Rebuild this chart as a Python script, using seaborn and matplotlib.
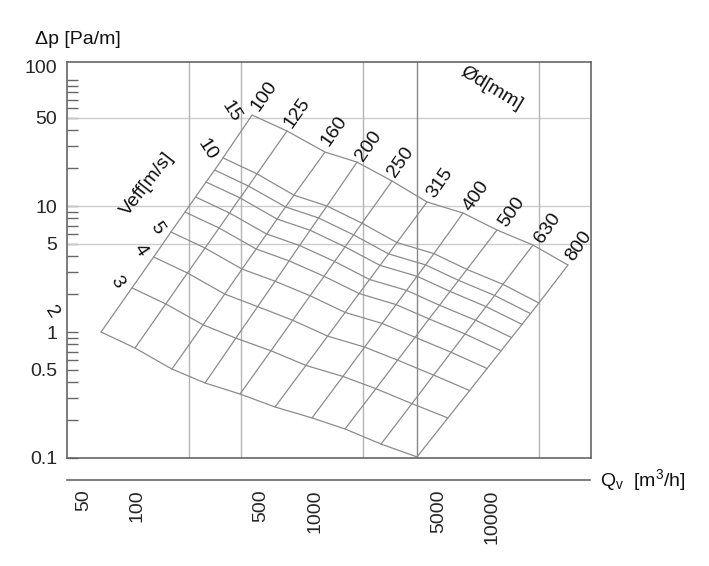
import matplotlib
matplotlib.use("Agg")
import matplotlib.pyplot as plt
from matplotlib.ticker import FixedLocator, NullLocator, NullFormatter
import seaborn as sns
import pandas as pd

# ---------------- data ----------------
velocities = [2, 3, 4, 5, 6, 7, 8, 9, 10, 15]          # m/s
diameters = [100, 125, 160, 200, 250, 315, 400, 500, 630, 800]  # mm

# flow Qv [m3/h] at each diameter, per velocity line
Q_v2 = [62.8, 97.4, 157, 241, 379, 596, 962, 1474, 2349, 3741]
Q_v3 = [93.6, 145, 235, 359, 565, 889, 1434, 2198, 3502, 5578]
Q_v4 = [124, 192, 311, 476, 749, 1177, 1900, 2911, 4639, 7388]
Q_v5 = [155, 241, 389, 597, 938, 1476, 2382, 3650, 5816, 9263]
Q_v6 = [186, 289, 467, 715, 1124, 1768, 2854, 4373, 6969, 11099]
Q_v7 = [213, 331, 535, 819, 1288, 2025, 3269, 5009, 7982, 12712]
Q_v8 = [244, 379, 612, 938, 1475, 2319, 3743, 5735, 9140, 14556]
Q_v9 = [273, 423, 683, 1047, 1647, 2590, 4180, 6405, 10206, 16255]
Q_v10 = [304, 472, 761, 1167, 1835, 2885, 4657, 7136, 11372, 18110]
Q_v15 = [443, 696, 1138, 1722, 2708, 4258, 6784, 10532, 16775, 26377]

# pressure drop dp [Pa/m] at each diameter, per velocity line
dp_v2 = [1.00, 0.746, 0.508, 0.394, 0.322, 0.254, 0.208, 0.170, 0.129, 0.102]
dp_v3 = [2.24, 1.67, 1.14, 0.894, 0.710, 0.543, 0.444, 0.355, 0.270, 0.208]
dp_v4 = [3.94, 2.94, 2.00, 1.59, 1.24, 0.928, 0.759, 0.598, 0.455, 0.343]
dp_v5 = [6.22, 4.64, 3.16, 2.53, 1.94, 1.43, 1.17, 0.908, 0.691, 0.513]
dp_v6 = [8.96, 6.69, 4.56, 3.67, 2.77, 2.02, 1.65, 1.27, 0.965, 0.709]
dp_v7 = [11.8, 8.80, 5.99, 4.86, 3.63, 2.61, 2.14, 1.63, 1.24, 0.903]
dp_v8 = [15.5, 11.6, 7.88, 6.42, 4.74, 3.38, 2.77, 2.10, 1.59, 1.15]
dp_v9 = [19.3, 14.4, 9.83, 8.04, 5.90, 4.17, 3.41, 2.57, 1.95, 1.40]
dp_v10 = [24.1, 18.0, 12.2, 10.0, 7.31, 5.13, 4.19, 3.14, 2.39, 1.70]
dp_v15 = [52.7, 39.4, 26.8, 22.3, 15.8, 10.76, 8.80, 6.45, 4.90, 3.40]

Q_lines = [Q_v2, Q_v3, Q_v4, Q_v5, Q_v6, Q_v7, Q_v8, Q_v9, Q_v10, Q_v15]
dp_lines = [dp_v2, dp_v3, dp_v4, dp_v5, dp_v6, dp_v7, dp_v8, dp_v9, dp_v10, dp_v15]

# reference grid lines
h_grid = [50, 10, 5]
v_grid = [195, 385, 1870, 3730, 18100]

y_major = [0.1, 0.5, 1, 5, 10, 50]
y_minor = [0.2, 0.3, 0.4, 0.6, 0.7, 0.8, 0.9, 2, 3, 4, 6, 7, 8, 9,
           20, 30, 40, 60, 70, 80, 90, 100]
x_major = [50, 100, 500, 1000, 5000, 10000]
x_minor = [40, 60, 70, 80, 90, 200, 300, 400, 600, 700, 800, 900,
           2000, 3000, 4000, 7000, 8000, 9000, 20000, 30000]

# ---------------- style ----------------
sns.set_style("white")
plt.rcParams['font.family'] = ['Liberation Sans', 'DejaVu Sans']
plt.rcParams['mathtext.fontset'] = 'custom'
plt.rcParams['mathtext.rm'] = 'Liberation Sans'
plt.rcParams['mathtext.it'] = 'Liberation Sans'

W, H = 709, 566
fig = plt.figure(figsize=(W / 100, H / 100), dpi=100)
fig.patch.set_facecolor('white')

ax = fig.add_axes([67 / W, (H - 458) / H, 524 / W, 396 / H])
ax.set_xscale('log')
ax.set_yscale('log')
XL = (40.4, 35530)
YL = (0.1, 139)
ax.set_xlim(*XL)
ax.set_ylim(*YL)

# grid lines
for yv in h_grid:
    ax.axhline(yv, color='#cccccc', lw=1.0, zorder=1)
for xv in v_grid:
    ax.axvline(xv, color='#888888' if xv == 3730 else '#b4b4b4', lw=1.0, zorder=1)

# build long tables
rows_v, rows_d = [], []
for j, v in enumerate(velocities):
    for i, d in enumerate(diameters):
        rows_v.append({'Q': Q_lines[j][i], 'dp': dp_lines[j][i], 'line': f'v{v}'})
for i, d in enumerate(diameters):
    for j, v in enumerate(velocities):
        rows_d.append({'Q': Q_lines[j][i], 'dp': dp_lines[j][i], 'line': f'd{d}'})
df_v = pd.DataFrame(rows_v)
df_d = pd.DataFrame(rows_d)

sns.lineplot(data=df_v, x='Q', y='dp', units='line', estimator=None, sort=False,
             color='#8c8c8c', lw=0.9, ax=ax, zorder=2)
sns.lineplot(data=df_d, x='Q', y='dp', units='line', estimator=None, sort=False,
             color='#8c8c8c', lw=0.9, ax=ax, zorder=2)
ax.set_xlabel('')
ax.set_ylabel('')
ax.set_xlim(*XL)
ax.set_ylim(*YL)

# spines
for s in ax.spines.values():
    s.set_color('#666666')
    s.set_linewidth(1.2)
    s.set_visible(True)

ax.tick_params(axis='x', which='both', length=0, labelbottom=False)
ax.yaxis.set_major_locator(FixedLocator(y_major))
ax.yaxis.set_minor_locator(FixedLocator(y_minor))
ax.yaxis.set_minor_formatter(NullFormatter())
ax.set_yticklabels(['0.1', '0.5', '1', '5', '10', '50'])
ax.tick_params(axis='y', which='both', direction='in', length=8, width=1,
               color='#666666', labelsize=14, pad=7, left=True)
ax.annotate('100', xy=(0, 124.5), xycoords=('axes fraction', 'data'),
            xytext=(-7, 0), textcoords='offset points', ha='right', va='center',
            fontsize=14)

# separate flow axis below
ax2 = fig.add_axes([67 / W, (H - 480) / H, 523 / W, 0.0001])
ax2.set_xscale('log')
ax2.set_xlim(*XL)
ax2.set_yticks([])
for k in ['top', 'left', 'right']:
    ax2.spines[k].set_visible(False)
ax2.spines['bottom'].set_color('#666666')
ax2.spines['bottom'].set_linewidth(1.2)
ax2.patch.set_alpha(0)
ax2.xaxis.set_major_locator(FixedLocator(x_major))
ax2.xaxis.set_minor_locator(FixedLocator(x_minor))
ax2.xaxis.set_minor_formatter(NullFormatter())
ax2.set_xticklabels([str(v) for v in x_major], rotation=90, va='top')
ax2.tick_params(axis='x', which='major', direction='in', length=12, width=1,
                color='#666666', labelsize=14, pad=7)
ax2.tick_params(axis='x', which='minor', direction='in', length=8, width=1,
                color='#666666')


def ptext(x, y, s, rot=0, size=14, **kw):
    fig.text(x / W, 1 - y / H, s, ha='center', va='center', rotation=rot,
             rotation_mode='anchor', fontsize=size, color='#111111', **kw)


# axis titles
ptext(78, 40, 'Δp [Pa/m]', size=14)
ptext(643, 480, r'Q$_\mathregular{v}$  [m$^\mathregular{3}$/h]', size=14)
ptext(491, 89, 'Ød[mm]', rot=-31, size=14)
ptext(147, 184, 'Veff[m/s]', rot=52, size=14)

# diameter labels
d_pos = [(264, 96), (297, 113), (334, 131), (369, 146), (401, 162),
         (440, 183), (476, 196), (512, 212), (548, 228), (579, 246)]
for d, (px, py) in zip(diameters, d_pos):
    ptext(px, py, str(d), rot=55, size=14)

# velocity labels
v_pos = {2: (52, 312), 3: (117, 282), 4: (140, 250), 5: (157, 228),
         10: (207, 150), 15: (231, 112)}
for v, (px, py) in v_pos.items():
    ptext(px, py, str(v), rot=-57, size=14)

fig.savefig('out.png', dpi=100, facecolor='white')
